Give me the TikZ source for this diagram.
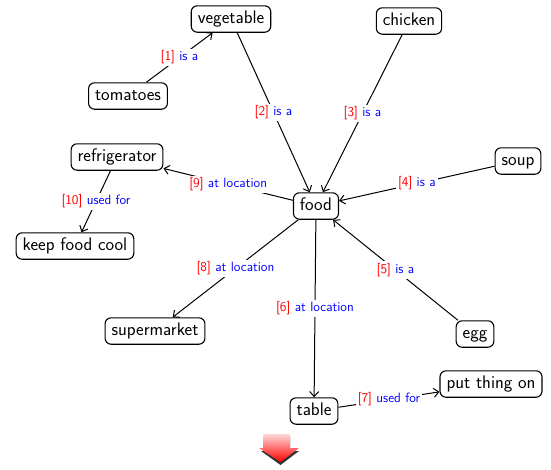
\documentclass[tikz,border=0pt]{standalone}
\usetikzlibrary{arrows.meta,shadings}
\begin{document}
\begin{tikzpicture}[x=1pt,y=-1pt,
  concept/.style={draw,line width=1.1pt,rounded corners=6pt,fill=white,
    font=\sffamily\fontsize{18.2}{21}\selectfont,inner xsep=6.5pt,inner ysep=5pt,text height=12.8pt,text depth=3.6pt},
  rel/.style={line width=1pt,-{Straight Barb[length=5pt,width=9pt,line width=1pt]}},
  lab/.style={fill=white,inner sep=2pt,font=\sffamily\fontsize{13.5}{15}\selectfont}]
\useasboundingbox (0,0) rectangle (551,469);
\node[concept] (veg) at (231,19) {vegetable};
\node[concept] (chk) at (409,21) {chicken};
\node[concept] (tom) at (128,96) {tomatoes};
\node[concept] (fri) at (117,157) {refrigerator};
\node[concept] (kfc) at (75,246) {keep food cool};
\node[concept] (soup) at (518,161) {soup};
\node[concept] (food) at (316,206) {food};
\node[concept] (sup) at (155,331) {supermarket};
\node[concept] (egg) at (475,334) {egg};
\node[concept] (tab) at (314,411) {table};
\node[concept] (put) at (491,384) {put thing on};

\draw[rel] (tom) -- node[lab]{\textcolor{red}{[1]} \textcolor{blue}{is a}} (veg);
\draw[rel] (veg) -- node[lab]{\textcolor{red}{[2]} \textcolor{blue}{is a}} (food);
\draw[rel] (chk) -- node[lab]{\textcolor{red}{[3]} \textcolor{blue}{is a}} (food);
\draw[rel] (soup) -- node[lab]{\textcolor{red}{[4]} \textcolor{blue}{is a}} (food);
\draw[rel] (egg) -- node[lab]{\textcolor{red}{[5]} \textcolor{blue}{is a}} (food);
\draw[rel] (food) -- node[lab]{\textcolor{red}{[6]} \textcolor{blue}{at location}} (tab);
\draw[rel] (tab) -- node[lab]{\textcolor{red}{[7]} \textcolor{blue}{used for}} (put);
\draw[rel] (food) -- node[lab]{\textcolor{red}{[8]} \textcolor{blue}{at location}} (sup);
\draw[rel] (food) -- node[lab]{\textcolor{red}{[9]} \textcolor{blue}{at location}} (fri);
\draw[rel] (fri) -- node[lab]{\textcolor{red}{[10]} \textcolor{blue}{used for}} (kfc);

% bottom shaded arrow
\fill[black!80] (263,437) -- (290,437) -- (290,451) -- (299,451) -- (280.5,465) -- (261,451) -- (263,451) -- cycle;
\shade[top color=red!15,bottom color=red] (263,434) -- (290,434) -- (290,448) -- (299,448) -- (280.5,462) -- (259,448) -- (263,448) -- cycle;
\end{tikzpicture}
\end{document}
